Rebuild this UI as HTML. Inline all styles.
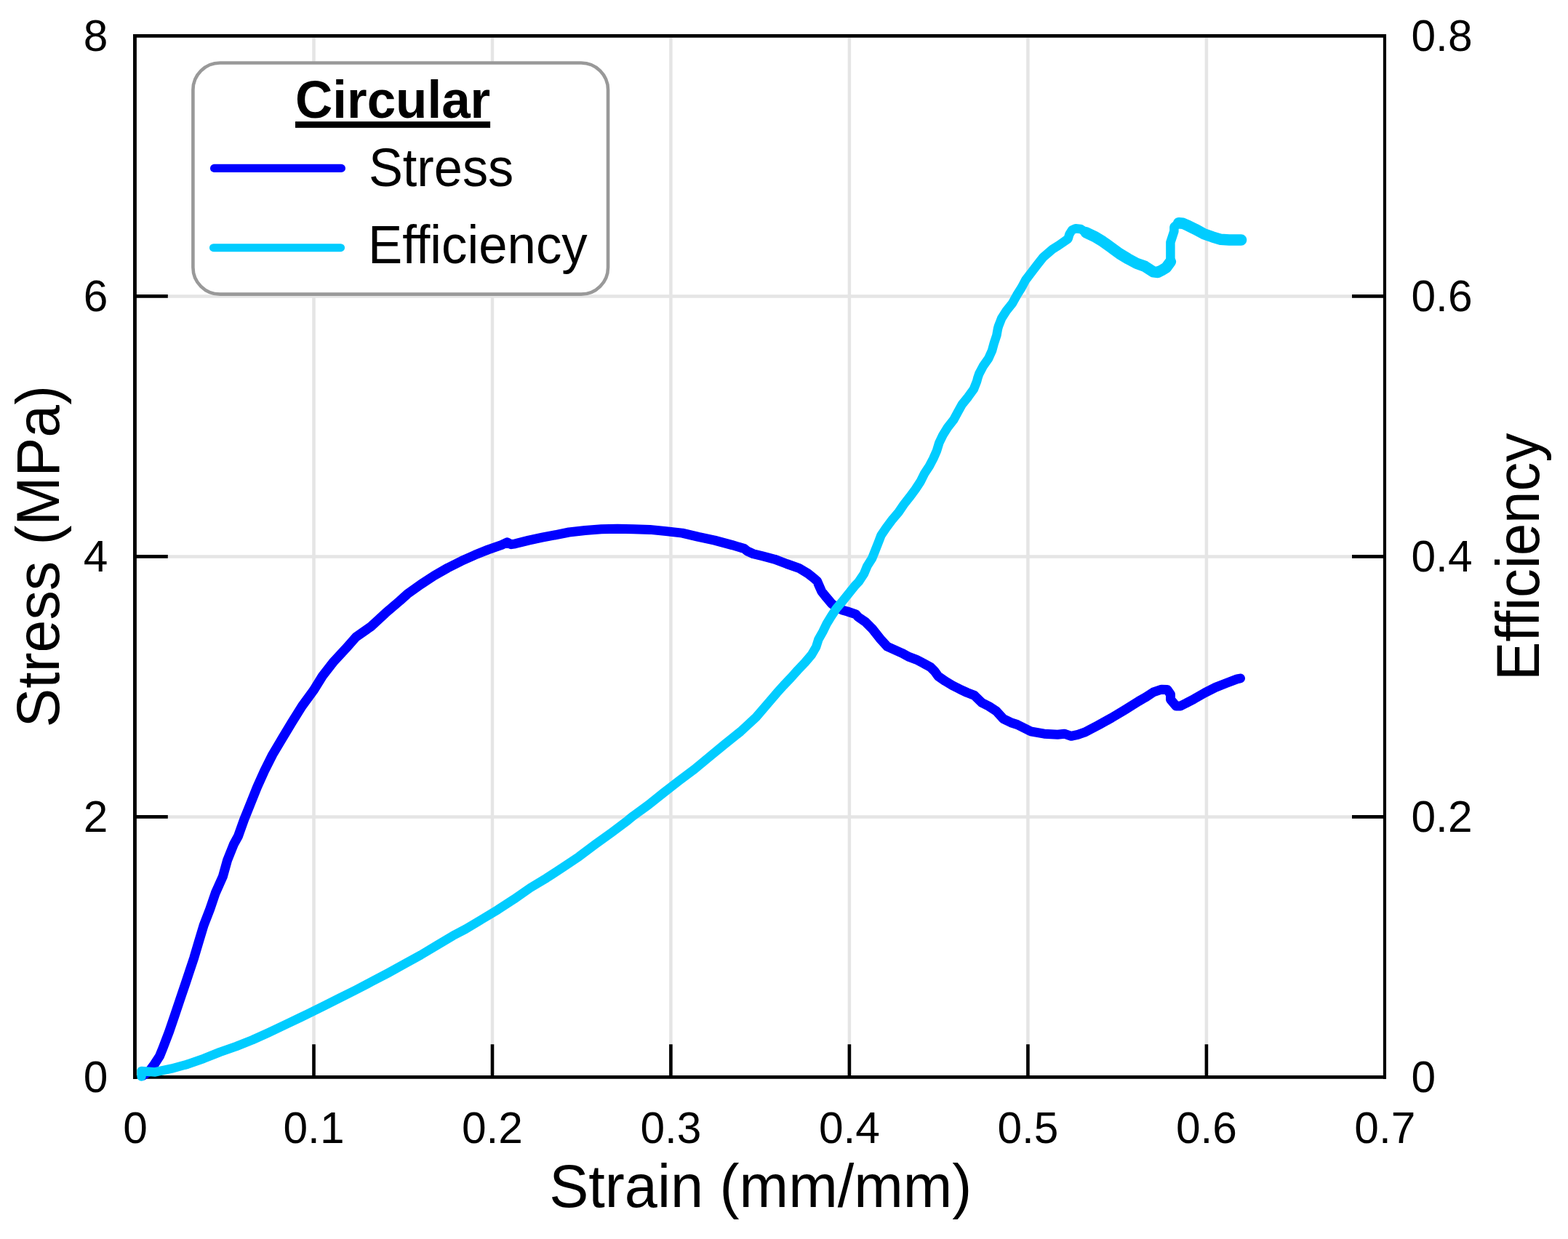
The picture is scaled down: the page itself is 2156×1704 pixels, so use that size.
<!DOCTYPE html><html><head><meta charset="utf-8"><title>Stress and Efficiency vs Strain</title>
<style>html,body{margin:0;padding:0;background:#fff;overflow:hidden}svg{display:block}text{font-family:'Liberation Sans', Arial, sans-serif;font-variant-ligatures:none}</style></head><body>
<svg width="2156" height="1704" viewBox="0 0 2156 1704">
<rect width="2156" height="1704" fill="#fff"/>
<path d="M431.5 52V1479 M677.0 52V1479 M922.4 52V1479 M1167.9 52V1479 M1413.4 52V1479 M1658.9 52V1479 M188 1123.4H1902 M188 765.4H1902 M188 407.4H1902" stroke="#e5e5e5" stroke-width="4.5" fill="none"/>
<path d="M431.5 1481V1436.3 M677.0 1481V1436.3 M922.4 1481V1436.3 M1167.9 1481V1436.3 M1413.4 1481V1436.3 M1658.9 1481V1436.3 M185 1123.4H230.8 M1904 1123.4H1859 M185 765.4H230.8 M1904 765.4H1859 M185 407.4H230.8 M1904 407.4H1859" stroke="#000" stroke-width="4.6" fill="none"/>
<path d="M185.45 47V1484" stroke="#000" stroke-width="4.9" fill="none"/>
<path d="M1903.95 47V1484" stroke="#000" stroke-width="4.2" fill="none"/>
<path d="M183 49.45H1906" stroke="#000" stroke-width="4.8" fill="none"/>
<path d="M183 1481.4H1906" stroke="#000" stroke-width="4.8" fill="none"/>
<path d="M196.0 1479.5 L205.0 1473.5 L212.3 1463.6 L219.5 1452.5 L224.0 1441.3 L232.5 1419.1 L240.1 1396.8 L247.6 1374.5 L255.1 1352.3 L259.2 1340.0 L266.8 1317.2 L273.4 1294.9 L280.1 1272.6 L288.7 1250.3 L296.3 1228.0 L306.3 1205.7 L312.5 1183.4 L321.4 1161.1 L327.5 1150.0 L335.6 1127.2 L344.6 1104.9 L353.5 1082.6 L363.5 1060.3 L374.7 1038.0 L388.0 1015.7 L401.4 993.4 L415.3 971.1 L431.0 949.7 L443.4 929.7 L458.9 909.8 L477.4 889.8 L489.8 875.8 L509.8 861.9 L529.8 843.4 L549.7 826.4 L560.0 817.1 L578.6 803.7 L597.1 791.6 L615.7 781.0 L634.2 771.7 L652.8 763.3 L671.3 755.9 L689.9 749.4 L697.3 745.9 L702.9 748.7 L708.4 747.8 L727.0 743.1 L745.5 739.2 L760.0 736.4 L782.3 732.0 L804.5 729.5 L826.8 727.8 L849.1 727.3 L871.3 727.7 L893.6 728.4 L915.9 730.6 L938.1 733.1 L960.4 738.4 L982.6 743.1 L1006.7 749.6 L1023.4 754.6 L1027.6 758.0 L1035.9 761.7 L1048.4 764.8 L1065.1 769.2 L1081.8 775.5 L1098.5 781.3 L1111.1 788.9 L1119.4 795.5 L1123.6 799.3 L1126.1 805.1 L1129.8 813.5 L1136.5 821.8 L1143.6 830.2 L1150.0 835.0 L1158.0 839.0 L1165.3 841.0 L1176.8 844.9 L1180.0 848.5 L1190.0 855.4 L1200.0 865.4 L1209.9 878.1 L1219.9 889.1 L1229.9 893.6 L1239.9 898.1 L1249.9 903.4 L1259.8 907.1 L1269.8 912.3 L1279.8 917.8 L1284.8 922.8 L1289.8 929.8 L1299.8 936.8 L1309.7 942.8 L1319.7 947.8 L1329.7 952.5 L1339.7 956.4 L1349.7 966.2 L1359.6 971.2 L1369.6 977.7 L1379.6 988.7 L1390.0 993.7 L1398.6 996.5 L1417.1 1005.8 L1435.7 1009.2 L1454.2 1010.2 L1463.5 1009.2 L1472.8 1012.3 L1482.0 1010.4 L1491.3 1007.2 L1509.9 997.5 L1528.4 987.3 L1547.0 976.1 L1565.5 964.5 L1574.8 959.2 L1586.0 951.9 L1597.1 948.2 L1605.0 948.5 L1609.5 955.0 L1609.5 962.0 L1617.1 971.0 L1623.1 971.0 L1630.5 967.3 L1641.6 961.4 L1656.5 952.9 L1671.3 945.4 L1686.2 939.5 L1701.0 933.9 L1705.5 933.0" stroke="#0000ff" stroke-width="13" fill="none" stroke-linecap="round" stroke-linejoin="round"/>
<path d="M194.5 1480.5 L194.5 1473.0 L213.4 1474.4 L235.7 1469.7 L257.9 1463.6 L280.2 1455.8 L302.5 1446.9 L324.7 1439.1 L347.0 1430.2 L369.2 1420.2 L391.5 1409.6 L413.8 1399.0 L422.3 1394.9 L444.6 1383.8 L466.9 1372.6 L489.2 1361.5 L511.5 1349.8 L533.8 1338.1 L556.1 1325.8 L578.4 1313.5 L600.7 1300.1 L623.0 1286.8 L640.0 1277.9 L662.3 1264.5 L684.6 1251.1 L706.9 1236.6 L729.2 1221.0 L751.5 1207.6 L773.8 1193.1 L796.1 1178.1 L818.4 1161.3 L840.7 1145.2 L863.0 1128.4 L870.6 1122.2 L891.7 1106.9 L912.8 1090.0 L933.9 1073.6 L955.1 1057.7 L976.2 1040.3 L997.3 1022.9 L1018.4 1006.0 L1039.6 986.4 L1059.0 963.8 L1068.0 953.2 L1077.5 942.6 L1087.5 932.1 L1097.0 921.5 L1107.1 910.9 L1116.0 900.4 L1122.1 889.8 L1125.5 879.2 L1131.4 868.7 L1136.6 858.1 L1143.0 847.5 L1149.9 837.0 L1158.8 826.4 L1167.3 815.8 L1175.7 805.3 L1180.8 800.0 L1188.0 789.1 L1192.4 778.5 L1199.1 767.9 L1203.3 757.4 L1207.5 746.8 L1211.5 736.2 L1218.6 725.7 L1226.6 715.1 L1235.5 704.5 L1242.6 694.0 L1250.9 683.4 L1258.8 672.8 L1265.7 662.3 L1270.9 651.7 L1277.8 641.1 L1283.3 630.6 L1288.0 620.0 L1291.3 609.1 L1296.4 598.5 L1303.0 587.9 L1311.2 577.4 L1317.0 566.8 L1322.8 556.2 L1331.3 545.7 L1338.9 535.1 L1343.1 524.5 L1344.5 519.2 L1346.3 514.0 L1351.9 503.4 L1359.3 492.8 L1364.0 482.3 L1366.9 471.7 L1370.4 461.1 L1372.0 452.0 L1373.0 448.5 L1377.1 437.9 L1383.8 427.4 L1392.2 416.8 L1398.0 406.2 L1404.6 395.7 L1410.2 385.1 L1418.3 374.5 L1426.3 364.0 L1434.7 353.4 L1447.2 342.8 L1455.6 337.5 L1463.0 332.3 L1468.5 328.5 L1470.5 322.0 L1474.0 316.5 L1479.0 314.3 L1486.0 315.0 L1490.0 317.5 L1493.2 319.7 L1504.8 325.2 L1516.4 332.2 L1528.0 340.5 L1539.6 349.0 L1551.2 356.0 L1562.8 362.3 L1574.4 366.4 L1586.0 373.9 L1591.8 374.5 L1597.6 371.6 L1603.4 368.1 L1609.4 360.0 L1609.4 333.3 L1614.4 318.0 L1614.4 312.0 L1620.7 306.7 L1626.5 307.2 L1632.3 309.8 L1643.9 315.4 L1655.5 321.7 L1667.1 325.8 L1678.7 329.3 L1690.3 329.9 L1701.9 329.9 L1706.6 329.9" stroke="#00ccff" stroke-width="12.5" fill="none" stroke-linecap="round" stroke-linejoin="round"/>
<path d="M1493.2 319.7 L1504.8 325.2 L1516.4 332.2 L1528.0 340.5 L1539.6 349.0 L1551.2 356.0 L1562.8 362.3 L1574.4 366.4 L1586.0 373.9 L1591.8 374.5 L1597.6 371.6 L1603.4 368.1 L1609.4 360.0 M1620.7 306.7 L1626.5 307.2 L1632.3 309.8 L1643.9 315.4 L1655.5 321.7 L1667.1 325.8 L1678.7 329.3 L1690.3 329.9 L1701.9 329.9 L1706.6 329.9" stroke="#00ccff" stroke-width="15.5" fill="none" stroke-linecap="round" stroke-linejoin="round"/>
<rect x="265.4" y="86.5" width="570.65" height="318.15" rx="37" ry="37" fill="#fff" stroke="#999" stroke-width="4.6"/>
<text transform="translate(406.10 162.30) scale(0.9840 1)" font-size="72.1" font-weight="bold">Circular</text>
<rect x="406" y="167.1" width="268.1" height="8.7" fill="#000"/>
<line x1="294.5" y1="231.4" x2="469.4" y2="231.4" stroke="#0000ff" stroke-width="11.1" stroke-linecap="round"/>
<line x1="293.5" y1="340.7" x2="468.5" y2="340.7" stroke="#00ccff" stroke-width="11.1" stroke-linecap="round"/>
<text transform="translate(506.90 256.00) scale(0.9600 1)" font-size="73.3">Stress</text>
<text transform="translate(506.10 362.00) scale(0.9657 1)" font-size="73.3">Efficiency</text>
<text transform="translate(148.50 1502.20) scale(0.9750 1)" font-size="62.0" text-anchor="end">0</text>
<text transform="translate(148.50 1144.20) scale(0.9750 1)" font-size="62.0" text-anchor="end">2</text>
<text transform="translate(148.50 786.20) scale(0.9750 1)" font-size="62.0" text-anchor="end">4</text>
<text transform="translate(148.50 428.20) scale(0.9750 1)" font-size="62.0" text-anchor="end">6</text>
<text transform="translate(148.50 70.20) scale(0.9750 1)" font-size="62.0" text-anchor="end">8</text>
<text transform="translate(1940.50 1502.20) scale(0.9750 1)" font-size="62.0">0</text>
<text transform="translate(1940.50 1144.20) scale(0.9750 1)" font-size="62.0">0.2</text>
<text transform="translate(1940.50 786.20) scale(0.9750 1)" font-size="62.0">0.4</text>
<text transform="translate(1940.50 428.20) scale(0.9750 1)" font-size="62.0">0.6</text>
<text transform="translate(1940.50 70.20) scale(0.9750 1)" font-size="62.0">0.8</text>
<text transform="translate(186.00 1572.20) scale(0.9750 1)" font-size="62.0" text-anchor="middle">0</text>
<text transform="translate(431.48 1572.20) scale(0.9750 1)" font-size="62.0" text-anchor="middle">0.1</text>
<text transform="translate(676.96 1572.20) scale(0.9750 1)" font-size="62.0" text-anchor="middle">0.2</text>
<text transform="translate(922.44 1572.20) scale(0.9750 1)" font-size="62.0" text-anchor="middle">0.3</text>
<text transform="translate(1167.92 1572.20) scale(0.9750 1)" font-size="62.0" text-anchor="middle">0.4</text>
<text transform="translate(1413.40 1572.20) scale(0.9750 1)" font-size="62.0" text-anchor="middle">0.5</text>
<text transform="translate(1658.88 1572.20) scale(0.9750 1)" font-size="62.0" text-anchor="middle">0.6</text>
<text transform="translate(1904.36 1572.20) scale(0.9750 1)" font-size="62.0" text-anchor="middle">0.7</text>
<text transform="translate(755.25 1659.80) scale(0.9770 1)" font-size="83.0">Strain (mm/mm)</text>
<text transform="translate(81.00 1000.50) rotate(-90) scale(0.9720 1)" font-size="83.0">Stress (MPa)</text>
<text transform="translate(2116.10 936.10) rotate(-90) scale(0.9630 1)" font-size="83.0">Efficiency</text>
</svg></body></html>
